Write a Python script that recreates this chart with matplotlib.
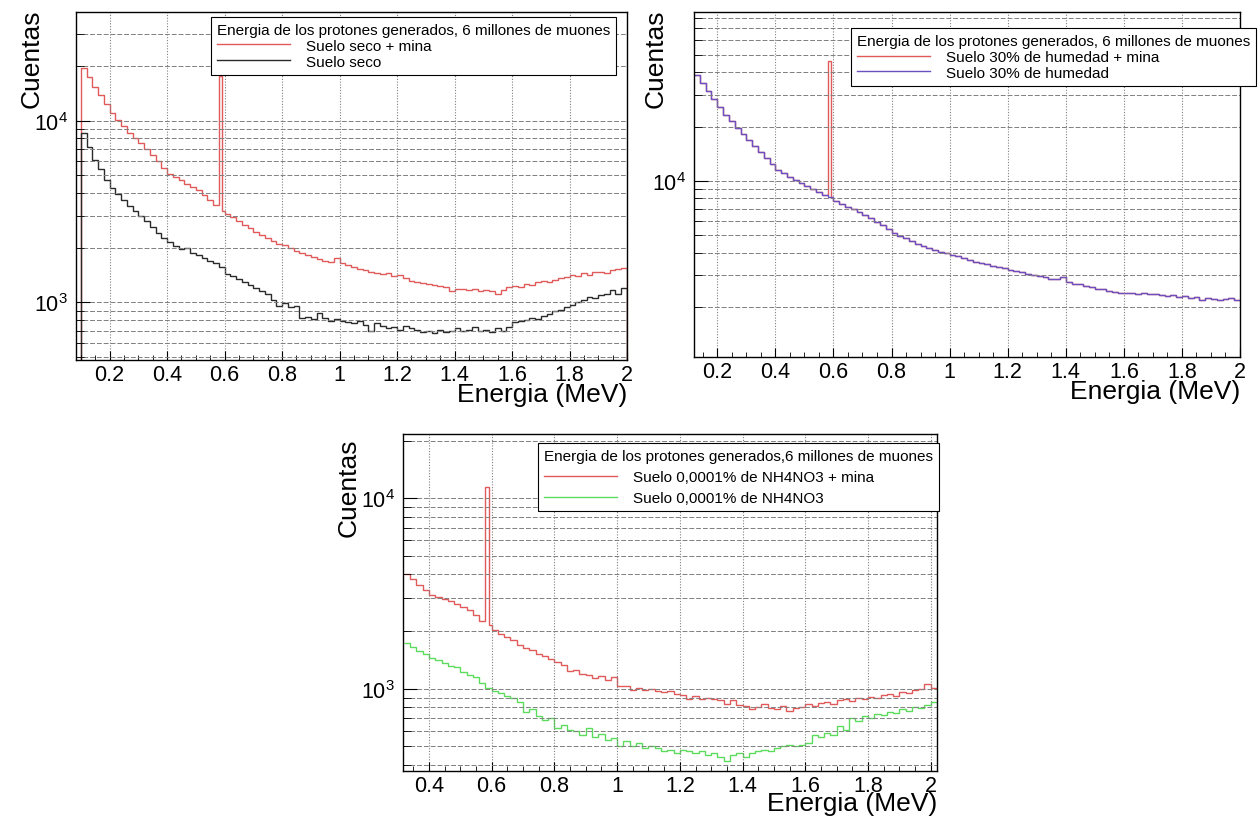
import numpy as np
import matplotlib
matplotlib.use("Agg")
import matplotlib.pyplot as plt
from matplotlib.ticker import MultipleLocator, LogLocator, NullFormatter, FuncFormatter

plt.rcParams['font.family'] = ['Liberation Sans', 'DejaVu Sans']

BIN = 0.02
SPIKE_LO, SPIKE_HI = 0.58, 0.59

# --- panel 1: suelo seco (bins of 0.02 MeV starting at 0.10) ---
seco_start = 0.10
seco_mina = [19400, 17300, 15400, 13900, 12300, 11000, 10100, 9300, 8600, 8000,
             7500, 7000, 6500, 6000, 5500, 5100, 4900, 4700, 4500, 4300,
             4150, 3900, 3650, 3450, 3200, 3080, 2950, 2800, 2680, 2560,
             2440, 2350, 2260, 2180, 2110, 2060, 1990, 1930, 1870, 1820,
             1780, 1740, 1700, 1680, 1750, 1640, 1600, 1560, 1530, 1500,
             1470, 1450, 1430, 1460, 1400, 1410, 1370, 1320, 1300, 1280,
             1270, 1250, 1230, 1210, 1160, 1190, 1180, 1170, 1190, 1160,
             1170, 1150, 1120, 1170, 1210, 1240, 1210, 1270, 1250, 1300,
             1320, 1290, 1330, 1360, 1380, 1410, 1390, 1450, 1420, 1470,
             1480, 1450, 1510, 1530, 1550]
seco_mina_spike = 17700
seco = [8600, 7200, 6100, 5400, 4700, 4250, 3950, 3650, 3400, 3200,
        3000, 2800, 2600, 2400, 2250, 2150, 2050, 1980, 2000, 1880,
        1820, 1750, 1700, 1640, 1560, 1440, 1400, 1350, 1300, 1250,
        1200, 1160, 1110, 1030, 960, 990, 940, 960, 820, 830,
        815, 880, 820, 790, 810, 790, 780, 770, 790, 750,
        700, 770, 740, 720, 730, 710, 740, 720, 710, 690,
        700, 680, 710, 690, 700, 720, 700, 710, 730, 700,
        710, 690, 720, 700, 730, 780, 790, 800, 820, 810,
        840, 860, 900, 910, 950, 970, 1000, 1030, 1070, 1060,
        1100, 1120, 1170, 1110, 1200]

# --- panel 2: suelo 30% de humedad (start 0.12) ---
hum_start = 0.12
humedad = [38500, 34800, 31500, 28300, 25500, 23300, 21400, 19700, 18200, 16800,
           15600, 14500, 13400, 12400, 11500, 11000, 10500, 10100, 9700, 9400,
           9000, 8700, 8400, 8150, 7700, 7450, 7200, 6950, 6700, 6480,
           6200, 5950, 5700, 5400, 5150, 4980, 4800, 4620, 4480, 4350,
           4240, 4150, 4050, 3970, 3910, 3830, 3730, 3650, 3580, 3520,
           3470, 3400, 3330, 3280, 3230, 3170, 3120, 3060, 3010, 2970,
           2940, 2880, 2850, 2930, 2740, 2700, 2680, 2620, 2590, 2520,
           2530, 2470, 2440, 2410, 2400, 2390, 2370, 2400, 2360, 2380,
           2340, 2310, 2330, 2290, 2300, 2250, 2280, 2200, 2240, 2210,
           2190, 2220, 2240, 2200]
humedad_mina_spike = 45900

# --- panel 3: suelo 0,0001% de NH4NO3 (start 0.32) ---
nh_start = 0.32
nh4_mina = [4000, 3750, 3500, 3300, 3100, 3050, 2950, 2900, 2780, 2680,
            2580, 2450, 2280, 2170, 2030, 1950, 1870, 1800, 1700, 1640,
            1600, 1520, 1490, 1430, 1380, 1330, 1240, 1260, 1200, 1180,
            1140, 1170, 1110, 1150, 1030, 1040, 990, 1010, 990, 1000,
            980, 960, 980, 940, 930, 880, 920, 880, 900, 880,
            870, 830, 870, 820, 810, 780, 800, 830, 790, 780,
            810, 770, 790, 800, 830, 810, 840, 850, 830, 870,
            880, 860, 900, 890, 910, 900, 930, 940, 920, 960,
            950, 990, 1000, 1060, 1010]
nh4_mina_spike = 11500
nh4 = [1750, 1650, 1580, 1520, 1460, 1420, 1370, 1320, 1300, 1230,
       1180, 1160, 1080, 1010, 970, 950, 920, 900, 850, 760,
       780, 720, 690, 700, 620, 650, 610, 600, 570, 620,
       560, 580, 540, 550, 500, 530, 500, 520, 490, 500,
       490, 470, 480, 460, 480, 470, 460, 470, 450, 460,
       440, 420, 450, 460, 440, 460, 470, 480, 470, 490,
       500, 510, 500, 510, 520, 570, 560, 590, 570, 640,
       610, 700, 680, 720, 700, 740, 730, 760, 750, 780,
       770, 800, 790, 820, 850]

title_a = "Energia de los protones generados, 6 millones de muones"
title_b = "Energia de los protones generados,6 millones de muones"


def edges_for(start, n):
    e = np.round(start + BIN * np.arange(n + 1), 3)
    return np.insert(e, np.searchsorted(e, SPIKE_HI), SPIKE_HI)


def with_spike(vals, start, spike=None):
    # split the 0.58-0.60 bin so the narrow mine peak gets its own bin
    i = int(round((SPIKE_LO - start) / BIN))
    v = list(vals)
    v.insert(i, v[i] if spike is None else spike)
    return np.array(v, dtype=float)


def setup(ax, xlim, ylim):
    ax.set_yscale('log')
    ax.set_xlim(*xlim)
    ax.set_ylim(*ylim)
    ax.xaxis.set_major_locator(MultipleLocator(0.2))
    ax.xaxis.set_minor_locator(MultipleLocator(0.05))
    ax.xaxis.set_major_formatter(FuncFormatter(lambda x, p: f"{x:g}"))
    ax.yaxis.set_major_locator(LogLocator(10))
    ax.yaxis.set_minor_locator(LogLocator(10, subs=np.arange(2, 10)))
    ax.yaxis.set_minor_formatter(NullFormatter())
    ax.tick_params(which='both', direction='in', top=False, right=False, labelsize=15.5)
    ax.tick_params(axis='x', which='major', length=6.5, pad=3)
    ax.tick_params(axis='x', which='minor', length=3.5)
    ax.tick_params(axis='y', which='major', length=10, pad=6)
    ax.tick_params(axis='y', which='minor', length=6)
    ax.grid(True, axis='x', which='major', color='0.5', ls=(0, (1, 1.5)), lw=0.8)
    ax.grid(True, axis='y', which='both', color='0.5', ls=(0, (5, 2)), lw=0.7)
    for s in ax.spines.values():
        s.set_linewidth(1.0)
    ax.set_xlabel('Energia (MeV)', fontsize=19, loc='right')
    ax.set_ylabel('Cuentas', fontsize=19, loc='top')


def add_legend(ax, title, anchor, spacing):
    leg = ax.legend(title=title, loc='upper left', bbox_to_anchor=anchor,
                    borderaxespad=0, fontsize=11, title_fontsize=11, alignment='left',
                    handlelength=4.8, handletextpad=1.0, borderpad=0.4,
                    labelspacing=spacing, fancybox=False, framealpha=1,
                    edgecolor='black')
    leg.get_frame().set_linewidth(0.8)
    return leg


fig = plt.figure(figsize=(12.58, 8.2), dpi=100)
ax1 = fig.add_axes([0.0604, 0.5598, 0.438, 0.4244])
ax2 = fig.add_axes([0.5517, 0.5634, 0.434, 0.4207])
ax3 = fig.add_axes([0.3203, 0.0585, 0.4245, 0.411])

# panel 1
yl1 = (483, 39600)
setup(ax1, (0.083, 2.0), yl1)
e1 = edges_for(seco_start, len(seco))
ax1.stairs(with_spike(seco_mina, seco_start, seco_mina_spike), e1, baseline=yl1[0],
           color='#e05a5a', lw=1.0, label='Suelo seco + mina')
ax1.stairs(with_spike(seco, seco_start), e1, baseline=yl1[0],
           color='#2a2a2a', lw=1.0, label='Suelo seco')
ax1.yaxis.set_label_coords(-0.058, 1.01)
ax1.xaxis.set_label_coords(1.0, -0.064)
add_legend(ax1, title_a, (0.245, 0.986), 0.12)

# panel 2
yl2 = (1060, 86000)
setup(ax2, (0.12, 2.0), yl2)
e2 = edges_for(hum_start, len(humedad))
ax2.stairs(with_spike(humedad, hum_start, humedad_mina_spike), e2, baseline=None,
           color='#e05a5a', lw=1.0, label='Suelo 30% de humedad + mina')
ax2.stairs(with_spike(humedad, hum_start), e2, baseline=None,
           color='#6a50c0', lw=1.0, label='Suelo 30% de humedad')
ax2.yaxis.set_label_coords(-0.048, 1.01)
ax2.xaxis.set_label_coords(1.0, -0.064)
add_legend(ax2, title_a, (0.2875, 0.954), 0.12)

# panel 3
yl3 = (371, 21700)
setup(ax3, (0.317, 2.02), yl3)
e3 = edges_for(nh_start, len(nh4))
ax3.stairs(with_spike(nh4_mina, nh_start, nh4_mina_spike), e3, baseline=None,
           color='#e05a5a', lw=1.0, label='Suelo 0,0001% de NH4NO3 + mina')
ax3.stairs(with_spike(nh4, nh_start), e3, baseline=None,
           color='#5cdc5c', lw=1.0, label='Suelo 0,0001% de NH4NO3')
ax3.yaxis.set_label_coords(-0.079, 0.99)
ax3.xaxis.set_label_coords(1.0, -0.06)
add_legend(ax3, title_b, (0.253, 0.973), 0.45)

fig.savefig('out.png', dpi=100)
